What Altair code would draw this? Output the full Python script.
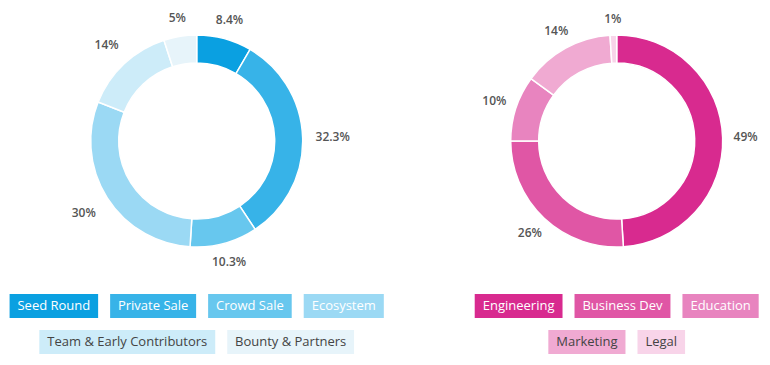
import math
import altair as alt
import pandas as pd

# ---- data -------------------------------------------------------------
token_labels = ["Seed Round", "Private Sale", "Crowd Sale", "Ecosystem",
                "Team & Early Contributors", "Bounty & Partners"]
token_values = [8.4, 32.3, 10.3, 30, 14, 5]
token_colors = ["#0aa0e1", "#37b3e8", "#67c7ee", "#9bd9f4", "#cdecf9", "#e7f4fa"]
token_text = ["#ffffff", "#ffffff", "#ffffff", "#ffffff", "#444444", "#444444"]

fund_labels = ["Engineering", "Business Dev", "Education", "Marketing", "Legal"]
fund_values = [49, 26, 10, 14, 1]
fund_colors = ["#d82a8f", "#e056a5", "#e884bf", "#f0aad2", "#f8d4e9"]
fund_text = ["#ffffff", "#ffffff", "#ffffff", "#444444", "#444444"]

# ---- layout helpers ----------------------------------------------------
W, H = 754, 349
FONT = "Open Sans"
# Open Sans advance widths (units per 2048 em) for text measurement
ADV = {" ": 532, "a": 1139, "b": 1255, "c": 975, "d": 1255, "e": 1149, "g": 1122,
       "i": 518, "k": 1075, "l": 518, "m": 1905, "n": 1257, "o": 1237, "p": 1255,
       "r": 836, "s": 977, "t": 723, "u": 1257, "v": 1026, "w": 1593, "y": 1028,
       "B": 1292, "C": 1290, "D": 1479, "E": 1128, "L": 1047, "M": 1815, "P": 1200,
       "R": 1239, "S": 1098, "T": 1124, "&": 1485}


def text_width(s, size=13):
    return sum(ADV.get(ch, 1150) for ch in s) * size / 2048


def donut_frame(labels, values, colors, text_colors, cx, cy, rows):
    n = len(labels)
    df = pd.DataFrame({"idx": range(n), "label": labels, "value": values,
                       "color": colors, "tcolor": text_colors})
    df["pct"] = [f"{v:g}%" for v in values]

    # legend boxes sized from the label text
    pad, gap, bh, row_gap = 8, 12, 24, 12
    x0, x1, y0, y1 = [], [], [], []
    i = 0
    for r, count in enumerate(rows):
        items = list(range(i, i + count))
        widths = [text_width(labels[k]) + 2 * pad for k in items]
        total_w = sum(widths) + gap * (count - 1)
        x = cx - total_w / 2
        top = cy + 153 + r * (bh + row_gap)
        for k, w in zip(items, widths):
            x0.append(x); x1.append(x + w)
            y0.append(top); y1.append(top + bh)
            x += w + gap
        i += count
    df["x0"], df["x1"], df["y0"], df["y1"] = x0, x1, y0, y1
    return df


THETA_SCALE = alt.Scale(domain=[0, 100], range=[0, 2 * math.pi])


def donut_layers(df, cx, cy, side_push):
    base = alt.Chart(df).transform_window(
        end="sum(value)", sort=[alt.SortField("idx")], frame=[None, 0]
    ).transform_calculate(
        start="datum.end - datum.value",
        mid="datum.end - datum.value / 2",
        r=f"122 + {side_push} * abs(sin(datum.mid / 100 * 2 * PI))",
        tx="(datum.x0 + datum.x1) / 2",
        ty="(datum.y0 + datum.y1) / 2",
    )
    arc = base.mark_arc(innerRadius=78, outerRadius=106, stroke="white",
                        strokeWidth=1.5).encode(
        theta=alt.Theta("start:Q", scale=THETA_SCALE, stack=None),
        theta2="end:Q",
        color=alt.Color("color:N", scale=None),
        x=alt.value(cx), y=alt.value(cy),
    )
    pct = base.mark_text(font=FONT, fontSize=12, fontWeight=600,
                         color="#555555").encode(
        theta=alt.Theta("mid:Q", scale=THETA_SCALE, stack=None),
        radius=alt.Radius("r:Q", scale=None),
        text="pct:N",
        x=alt.value(cx), y=alt.value(cy),
    )
    boxes = base.mark_rect().encode(
        x=alt.X("x0:Q", scale=None, axis=None),
        x2="x1:Q",
        y=alt.Y("y0:Q", scale=None, axis=None),
        y2="y1:Q",
        color=alt.Color("color:N", scale=None),
    )
    names = base.mark_text(font=FONT, fontSize=13, fontWeight=500, align="center",
                           baseline="middle").encode(
        x=alt.X("tx:Q", scale=None, axis=None),
        y=alt.Y("ty:Q", scale=None, axis=None),
        text="label:N",
        color=alt.Color("tcolor:N", scale=None),
    )
    return [arc, pct, boxes, names]


left_cx, right_cx, cy = 188.7, 608.7, 133
left = donut_frame(token_labels, token_values, token_colors, token_text,
                   left_cx, cy, [4, 2])
right = donut_frame(fund_labels, fund_values, fund_colors, fund_text,
                    right_cx, cy, [3, 2])

chart = alt.layer(
    *donut_layers(left, left_cx, cy, 14),
    *donut_layers(right, right_cx, cy, 7),
).properties(
    width=W, height=H, padding=0,
    autosize=alt.AutoSizeParams(type="none"),
    background="white",
).configure_view(stroke=None)

chart.save("out.html", embed_options={"renderer": "svg", "actions": False})
